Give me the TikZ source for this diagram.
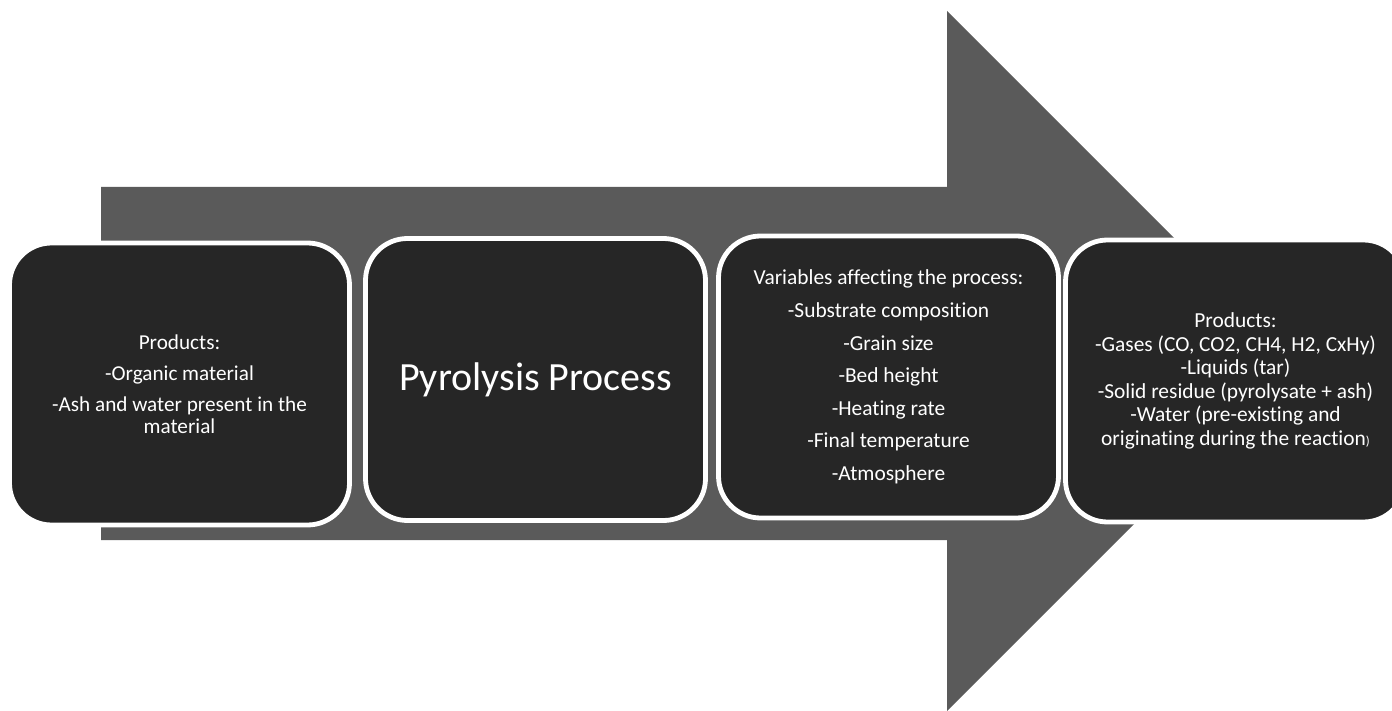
\documentclass[tikz,border=0pt]{standalone}
\usepackage{fontspec}
\setmainfont{Carlito}[Ligatures=NoCommon]
\usepackage{xcolor}
\usepackage{tikz}
\usetikzlibrary{positioning}
\definecolor{arrowgray}{HTML}{5A5A5A}
\definecolor{boxdark}{HTML}{262626}

\begin{document}
\begin{tikzpicture}[x=0.5pt, y=-0.5pt,
    stagebox/.style={draw=white, line width=2.4pt, fill=boxdark, rounded corners=21pt,
        minimum width=170pt, minimum height=141pt, text=white, align=center, inner sep=0pt}]
    \useasboundingbox (0,0) rectangle (1392,711);

    % Big arrow behind the stages
    \fill[arrowgray] (101,187) -- (947,187) -- (947,11) -- (1297,361) -- (947,711) -- (947,540) -- (101,540) -- cycle;

    % Input
    \node[stagebox, font=\fontsize{10.6}{11.25}\selectfont] (input) at (179.5,384) {
        Products:\\[4.25pt]
        -Organic material\\[4.25pt]
        -Ash and water present in the\\
        material
    };

    % Process
    \node[stagebox, font=\fontsize{20}{24}\selectfont] (process) at (535.5,379.5) {Pyrolysis Process};

    % Variables
    \node[stagebox, font=\fontsize{10.7}{16.3}\selectfont] (vars) at (888.5,377) {
        Variables affecting the process:\\
        -Substrate composition\\
        -Grain size\\
        -Bed height\\
        -Heating rate\\
        -Final temperature\\
        -Atmosphere
    };

    % Output
    \node[stagebox, font=\fontsize{10.7}{11.75}\selectfont] (output) at (1235.5,381) {
        Products:\\
        -Gases (CO, CO2, CH4, H2, CxHy)\\
        -Liquids (tar)\\
        -Solid residue (pyrolysate + ash)\\
        -Water (pre-existing and\\
        originating during the reaction{\fontsize{6.5}{7}\selectfont )}
    };
\end{tikzpicture}
\end{document}
